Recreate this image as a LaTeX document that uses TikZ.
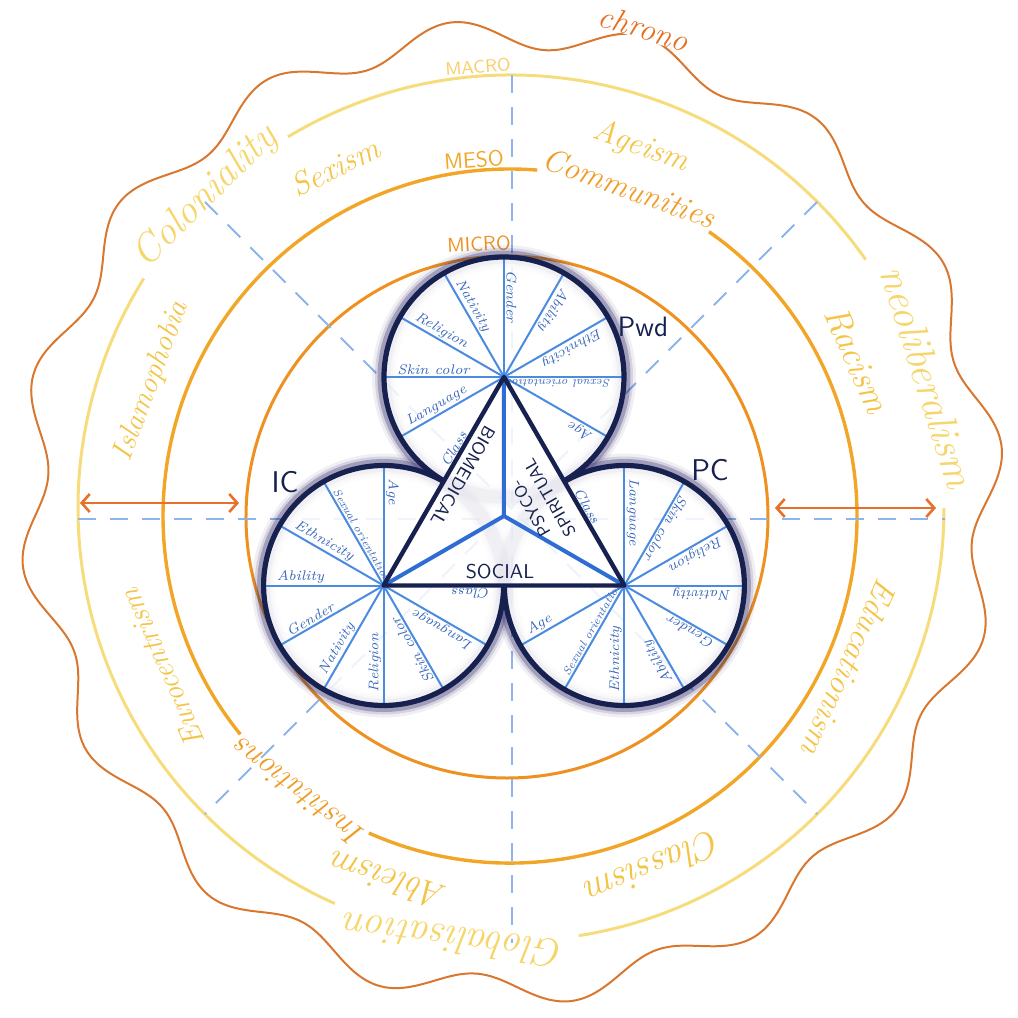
\documentclass[tikz,border=0pt]{standalone}
\usepackage{fontspec}
\usepackage{tikz}
\usetikzlibrary{arrows.meta}
\definecolor{chronoorange}{HTML}{D9772F}
\definecolor{chronotext}{HTML}{E46F1E}
\definecolor{macroyellow}{HTML}{F7DC7C}
\definecolor{macrotext}{HTML}{F6D66A}
\definecolor{ismtext}{HTML}{F3C445}
\definecolor{mesoorange}{HTML}{F2A627}
\definecolor{mesotext}{HTML}{EF9D26}
\definecolor{microorange}{HTML}{EE9120}
\definecolor{arroworange}{HTML}{E8702A}
\definecolor{guideblue}{HTML}{8DB4EC}
\definecolor{clovernavy}{HTML}{17214F}
\definecolor{cloverglow}{HTML}{2B2466}
\definecolor{spokeblue}{HTML}{4A8BE0}
\definecolor{spoketext}{HTML}{3766BB}
\definecolor{triblue}{HTML}{2F6CD4}
\tikzset{
  ringword/.style={font=\itshape\fontsize{#1}{#1}\selectfont, inner sep=1pt},
  levelword/.style={font=\sffamily\fontsize{#1}{#1}\selectfont, inner sep=1pt},
  guide/.style={guideblue, line width=1pt, dash pattern=on 9pt off 7pt},
  levelarrow/.style={{Straight Barb[length=4pt,width=9pt]}-{Straight Barb[length=4pt,width=9pt]},
    arroworange, line width=1.3pt},
  spokeline/.style={spokeblue, line width=1pt},
  spokeword/.style={spoketext, font=\itshape\fontsize{7}{7}\selectfont, inner sep=1pt, anchor=south west},
  lobeline/.style={clovernavy, line width=2.6pt},
  dimword/.style={clovernavy, font=\sffamily\fontsize{#1}{11}\selectfont, align=center, inner sep=1pt}
}
\begin{document}
\begin{tikzpicture}[x=0.5pt,y=0.5pt]
\useasboundingbox (-509,-504) rectangle (509,514);
% centres
\coordinate (macroC) at (2,6);
\coordinate (mesoC) at (1,-2);
\coordinate (microC) at (-2,-3);
\coordinate (triC) at (-5,-2);

% chrono boundary
\begin{scope}[shift={(macroC)}]
  \draw[chronoorange, line width=1pt] plot[domain=0:360, samples=300, smooth cycle, variable=\t]
    ({\t}:{478+15*sin(16*(\t-68.9))+4*sin(3*\t)});
\end{scope}
\node[ringword=16, chronotext, fill=white, inner sep=0pt, rotate=-17] (chrono) at (135,486) {chrono};

% macro level
\draw[macroyellow, line width=1.5pt] (macroC) ++(35:433) arc[start angle=35, end angle=121, radius=433];
\draw[macroyellow, line width=1.5pt] (macroC) ++(148:433) arc[start angle=148, end angle=246, radius=433];
\draw[macroyellow, line width=1.5pt] (macroC) ++(279:433) arc[start angle=279, end angle=360, radius=433];
\path (macroC) ++(134.5:436) node[ringword=20, macrotext, rotate=44.5] (coloniality) {Coloniality};
\path (macroC) ++(17.5:437) node[ringword=21, macrotext, rotate=-72.5] (neoliberalism) {neoliberalism};
\path (macroC) ++(262.5:436) node[ringword=20, macrotext, rotate=172.5] (globalisation) {Globalisation};
\node[levelword=9, macroyellow!85!orange, rotate=4] (macroLab) at (-31,447) {MACRO};

% isms
\node[ringword=16, ismtext, rotate=26.6] (sexism) at (-174,347) {Sexism};
\node[ringword=16, ismtext, rotate=-19.8] (ageism) at (132,367) {Ageism};
\node[ringword=18, ismtext, rotate=-66] (racism) at (348,154) {Racism};
\node[ringword=16.5, ismtext, rotate=-114.3] (educationism) at (341,-154) {Educationism};
\node[ringword=19, ismtext, rotate=202.3] (classism) at (145,-354) {Classism};
\node[ringword=18, ismtext, rotate=161.8] (ableism) at (-121,-367) {Ableism};
\node[ringword=15, ismtext, rotate=113.9] (eurocentrism) at (-347,-154) {Eurocentrism};
\node[ringword=15, ismtext, rotate=69.6] (islamophobia) at (-357,133) {Islamophobia};

% meso level
\draw[mesoorange, line width=1.7pt] (mesoC) ++(85.5:347) arc[start angle=85.5, end angle=219, radius=347];
\draw[mesoorange, line width=1.7pt] (mesoC) ++(246:347) arc[start angle=246, end angle=415, radius=347];
\path (mesoC) ++(70:349) node[ringword=16, mesotext, rotate=-20] (communities) {Communities};
\path (mesoC) ++(232.5:349) node[ringword=16, mesotext, rotate=142.5] (institutions) {Institutions};
\node[levelword=11, mesoorange, rotate=4] (mesoLab) at (-35,354) {MESO};

% micro level
\draw[microorange, line width=1.5pt] (microC) circle[radius=261];
\node[levelword=10, microorange, rotate=3] (microLab) at (-30,270) {MICRO};

% guides
\draw[guide] (3,439) -- (3,-429);
\draw[guide] (-431,-5) -- (436,-5);
\draw[guide] (308,312) -- (-304,-300);
\draw[guide] (-304,312) -- (308,-300);

% level arrows
\coordinate (macroW) at (-429,11);
\coordinate (microW) at (-270,11);
\coordinate (microE) at (266,6);
\coordinate (macroE) at (427,6);
\draw[levelarrow] (macroW) -- (microW);
\draw[levelarrow] (microE) -- (macroE);

% clover
\coordinate (pwd) at (-5,137);
\coordinate (ic) at (-125.4,-71.5);
\coordinate (pc) at (115.4,-71.5);
\foreach \w/\o in {12/.07,9/.14,6.5/.3}
  \foreach \h in {pwd,ic,pc}
    \draw[cloverglow, opacity=\o, line width=\w pt] (\h) circle[radius=120];
\fill[white, opacity=.85] (pwd) circle[radius=120] (ic) circle[radius=120] (pc) circle[radius=120]
  (pwd) -- (ic) -- (pc) -- cycle;

\foreach \h/\b in {pwd/-60, ic/60, pc/180}{
  \foreach \k/\lab in {1/Age, 2/{\fontsize{5.6}{5.6}\selectfont Sexual orientation}, 3/Ethnicity,
      4/Ability, 5/Gender, 6/Nativity, 7/Religion, 8/Skin color, 9/Language, 10/Class}{
    \pgfmathsetmacro{\a}{\b+30*\k}
    \ifnum\k<10 \draw[spokeline] (\h) -- ++(\a:120); \fi
    \path (\h) ++(\a:109) node[spokeword, rotate=\a+180] (\h-\k) {\lab};
  }
  \draw[lobeline] (\h) ++(\b:120) arc[start angle=\b, end angle=\b+300, radius=120];
}

% triangle
\draw[triblue, line width=2pt] (triC) -- (pwd) (triC) -- (ic) (triC) -- (pc);
\draw[clovernavy, line width=2.2pt, line join=round] (pwd) -- (ic) -- (pc) -- cycle;
\node[dimword=9, rotate=-120] (biomedical) at (-46,38) {BIOMEDICAL};
\node[dimword=8.5, rotate=120] (psyco) at (31,11) {PSYCO-\\SPIRITUAL};
\node[dimword=10] (social) at (-9,-58) {SOCIAL};
\node[dimword=14] (pwdLab) at (134,187) {Pwd};
\node[dimword=15] (icLab) at (-224,32) {IC};
\node[dimword=15] (pcLab) at (201,44) {PC};
\end{tikzpicture}
\end{document}
